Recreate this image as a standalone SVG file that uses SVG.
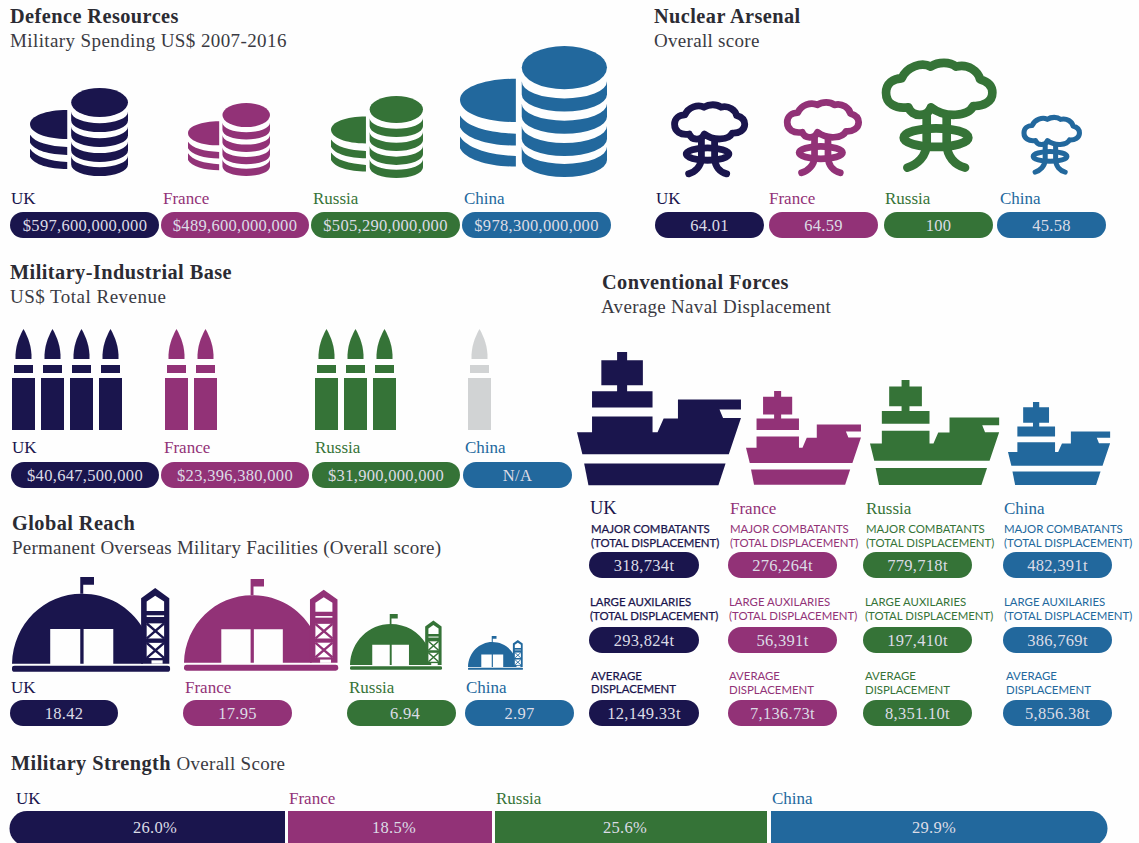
<svg xmlns="http://www.w3.org/2000/svg" xmlns:xlink="http://www.w3.org/1999/xlink" width="1139" height="843" viewBox="0 0 1139 843">
<style>
text{font-family:"Liberation Serif","Times New Roman",serif}
.uk{color:#1a154d;fill:#1a154d}.fr{color:#923277;fill:#923277}.ru{color:#357337;fill:#357337}.cn{color:#22689d;fill:#22689d}.na{color:#d1d3d4;fill:#d1d3d4}
.t{font-size:20.300px;font-weight:bold;fill:#2b2b33;letter-spacing:.45px}
.s{font-size:19px;fill:#3a3a42;letter-spacing:.3px}
.l{font-size:17px}
.n{font-size:17px}
.p{font-size:16.500px;fill:#dcdce6;text-anchor:middle;letter-spacing:.3px}
.m{font-family:Lato,"Open Sans",sans-serif;font-size:11.400px}
.b{stroke:currentColor;stroke-width:.25px}
</style>
<defs>
<g id="coins" fill="currentColor">
<ellipse cx="71" cy="16.500" rx="29" ry="16.500"/>
<path d="M42 27A29 13 0 0 0 100 27V37A29 13 0 0 1 42 37Z"/>
<path d="M42 44A29 13 0 0 0 100 44V54A29 13 0 0 1 42 54Z"/>
<path d="M42 61A29 13 0 0 0 100 61V71A29 13 0 0 1 42 71Z"/>
<path d="M42 77A29 13 0 0 0 100 77V87A29 13 0 0 1 42 87Z"/>
<path d="M38 25C16 25 0 32 0 41C0 51 16 58 38 58Z"/>
<path d="M0 53C5 62 20 66 38 67V76C20 76 4 71 0 62Z"/>
<path d="M0 69C5 78 20 83 38 84V92C20 92 4 87 0 78Z"/>
</g>
<g id="nuke" transform="translate(-725 -25)" fill="none" stroke="currentColor" stroke-linecap="round" stroke-linejoin="round">
<path d="M873 172C860 205 815 200 805 172C765 178 738 160 738 128C738 100 760 85 785 85C800 50 845 35 872 50C895 35 930 35 948 50C985 40 1015 65 1020 88C1045 95 1057 110 1057 128C1057 155 1030 170 1000 168C985 200 915 205 873 172Z"/>
<path d="M860 195V280C860 320 830 345 802 353M920 195V280C920 320 945 345 975 353"/>
<ellipse cx="888" cy="263" rx="97" ry="28"/>
</g>
<g id="bullet" fill="currentColor">
<path d="M11.500 0C16 8 20 18 19.500 30H3.500C3 18 7 8 11.500 0Z"/>
<rect x="2" y="36" width="19" height="8"/>
<rect x="0" y="49" width="23" height="52"/>
</g>
<g id="ship" transform="translate(-20 -35)" fill="currentColor">
<path d="M132 35H160V60H204V135H160V153H231V202H62V153H132V135H88V60H132Z"/>
<path d="M62 229H231V277H245L262 235H302V178H478V208H418L428 234H478L444 343H35L20 277H62Z"/>
<path d="M40 371H435L415 436H52Z"/>
</g>
<g id="base" transform="translate(-32 -22)" fill="currentColor">
<path d="M32 280C35 160 120 72 220 72C290 72 350 110 385 175V280H305V177H225V280H216V177H135V280Z"/>
<path d="M216 72V22H253V45H224V72Z"/>
<path d="M380 85L418 55L456 85V280H380Z"/>
<rect x="32" y="286" width="426" height="18" rx="7"/>
<g fill="#fff"><path d="M395 95L418 78L442 95V123H395Z"/><rect x="395" y="136" width="47" height="5"/><rect x="395" y="160" width="47" height="45"/><rect x="395" y="218" width="47" height="45"/><rect x="408" y="270" width="30" height="10"/></g>
<path d="M395 160L442 205M442 160L395 205M395 218L442 263M442 218L395 263" stroke="currentColor" stroke-width="7" fill="none"/>
</g>
</defs>
<rect width="1139" height="843" fill="#fefefe"/>

<g id="defence-resources">
<text class="t" x="10" y="23">Defence Resources</text>
<text class="s" x="10" y="47" style="letter-spacing:.4px">Military Spending US$ 2007-2016</text>
<use href="#coins" class="uk" transform="translate(30 88) scale(.98 .88)"/>
<use href="#coins" class="fr" transform="translate(188 103) scale(.82 .73)"/>
<use href="#coins" class="ru" transform="translate(331 96) scale(.92 .82)"/>
<use href="#coins" class="cn" transform="translate(460 46) scale(1.47 1.31)"/>
<text class="l uk" x="11" y="204">UK</text><text class="l fr" x="163" y="204">France</text><text class="l ru" x="313" y="204">Russia</text><text class="l cn" x="464" y="204">China</text>
<rect class="uk" x="10" y="212" width="149" height="26" rx="13"/><text class="p" x="85" y="231">$597,600,000,000</text>
<rect class="fr" x="161" y="212" width="148" height="26" rx="13"/><text class="p" x="235" y="231">$489,600,000,000</text>
<rect class="ru" x="311" y="212" width="149" height="26" rx="13"/><text class="p" x="385.500" y="231">$505,290,000,000</text>
<rect class="cn" x="462" y="212" width="149" height="26" rx="13"/><text class="p" x="536.500" y="231">$978,300,000,000</text>
</g>

<g id="nuclear-arsenal">
<text class="t" x="654" y="23">Nuclear Arsenal</text>
<text class="s" x="654" y="47">Overall score</text>
<use href="#nuke" class="uk" stroke-width="31" transform="translate(671.700 101.700) scale(.22)"/>
<use href="#nuke" class="fr" stroke-width="30" transform="translate(784.300 99.300) scale(.224)"/>
<use href="#nuke" class="ru" stroke-width="26" transform="translate(881.700 58.300) scale(.3333)"/>
<use href="#nuke" class="cn" stroke-width="29" transform="translate(1021.700 115) scale(.174)"/>
<text class="l uk" x="656" y="204">UK</text><text class="l fr" x="769" y="204">France</text><text class="l ru" x="885" y="204">Russia</text><text class="l cn" x="1000" y="204">China</text>
<rect class="uk" x="655" y="212" width="109" height="26" rx="13"/><text class="p" x="709.500" y="231">64.01</text>
<rect class="fr" x="769" y="212" width="109" height="26" rx="13"/><text class="p" x="823.500" y="231">64.59</text>
<rect class="ru" x="884" y="212" width="109" height="26" rx="13"/><text class="p" x="938.500" y="231">100</text>
<rect class="cn" x="997" y="212" width="109" height="26" rx="13"/><text class="p" x="1051.500" y="231">45.58</text>
</g>

<g id="military-industrial-base">
<text class="t" x="10" y="279">Military-Industrial Base</text>
<text class="s" x="10" y="303" style="letter-spacing:.48px">US$ Total Revenue</text>
<use href="#bullet" class="uk" x="12" y="329"/><use href="#bullet" class="uk" x="41" y="329"/><use href="#bullet" class="uk" x="70" y="329"/><use href="#bullet" class="uk" x="99" y="329"/>
<use href="#bullet" class="fr" x="165" y="329"/><use href="#bullet" class="fr" x="194" y="329"/>
<use href="#bullet" class="ru" x="315" y="329"/><use href="#bullet" class="ru" x="344" y="329"/><use href="#bullet" class="ru" x="373" y="329"/>
<use href="#bullet" class="na" x="468" y="329"/>
<text class="l uk" x="12" y="453">UK</text><text class="l fr" x="164" y="453">France</text><text class="l ru" x="315" y="453">Russia</text><text class="l cn" x="465" y="453">China</text>
<rect class="uk" x="11" y="462" width="148" height="26" rx="13"/><text class="p" x="85" y="481">$40,647,500,000</text>
<rect class="fr" x="161" y="462" width="148" height="26" rx="13"/><text class="p" x="235" y="481">$23,396,380,000</text>
<rect class="ru" x="312" y="462" width="148" height="26" rx="13"/><text class="p" x="386" y="481">$31,900,000,000</text>
<rect class="cn" x="463" y="462" width="109" height="26" rx="13"/><text class="p" x="517.500" y="481">N/A</text>
</g>

<g id="conventional-forces">
<text class="t" x="602" y="289">Conventional Forces</text>
<text class="s" x="601" y="313">Average Naval Displacement</text>
<use href="#ship" class="uk" transform="translate(577 352) scale(.358 .332)"/>
<use href="#ship" class="fr" transform="translate(746 391) scale(.251 .234)"/>
<use href="#ship" class="ru" transform="translate(870 380) scale(.282 .262)"/>
<use href="#ship" class="cn" transform="translate(1008 402) scale(.223 .207)"/>
<text class="n uk" style="font-size:18.500px" x="590" y="514">UK</text><text class="n fr" x="730" y="514">France</text><text class="n ru" x="866" y="514">Russia</text><text class="n cn" x="1004" y="514">China</text>

<text class="m uk b" x="591" y="533">MAJOR COMBATANTS</text><text class="m uk b" x="591" y="547">(TOTAL DISPLACEMENT)</text>
<text class="m fr" x="730" y="533">MAJOR COMBATANTS</text><text class="m fr" x="730" y="547">(TOTAL DISPLACEMENT)</text>
<text class="m ru" x="866" y="533">MAJOR COMBATANTS</text><text class="m ru" x="866" y="547">(TOTAL DISPLACEMENT)</text>
<text class="m cn" x="1004" y="533">MAJOR COMBATANTS</text><text class="m cn" x="1004" y="547">(TOTAL DISPLACEMENT)</text>
<rect class="uk" x="589" y="552" width="110" height="26" rx="13"/><text class="p" x="644" y="571">318,734t</text>
<rect class="fr" x="728" y="552" width="109" height="26" rx="13"/><text class="p" x="782.500" y="571">276,264t</text>
<rect class="ru" x="863" y="552" width="109" height="26" rx="13"/><text class="p" x="917.500" y="571">779,718t</text>
<rect class="cn" x="1003" y="552" width="109" height="26" rx="13"/><text class="p" x="1057.500" y="571">482,391t</text>

<text class="m uk b" x="590" y="606">LARGE AUXILARIES</text><text class="m uk b" x="590" y="620">(TOTAL DISPLACEMENT)</text>
<text class="m fr" x="729" y="606">LARGE AUXILARIES</text><text class="m fr" x="729" y="620">(TOTAL DISPLACEMENT)</text>
<text class="m ru" x="865" y="606">LARGE AUXILARIES</text><text class="m ru" x="865" y="620">(TOTAL DISPLACEMENT)</text>
<text class="m cn" x="1004" y="606">LARGE AUXILARIES</text><text class="m cn" x="1004" y="620">(TOTAL DISPLACEMENT)</text>
<rect class="uk" x="589" y="627" width="110" height="26" rx="13"/><text class="p" x="644" y="646">293,824t</text>
<rect class="fr" x="728" y="627" width="109" height="26" rx="13"/><text class="p" x="782.500" y="646">56,391t</text>
<rect class="ru" x="863" y="627" width="109" height="26" rx="13"/><text class="p" x="917.500" y="646">197,410t</text>
<rect class="cn" x="1003" y="627" width="109" height="26" rx="13"/><text class="p" x="1057.500" y="646">386,769t</text>

<text class="m uk b" x="591" y="680">AVERAGE</text><text class="m uk b" x="591" y="693">DISPLACEMENT</text>
<text class="m fr" x="729" y="680">AVERAGE</text><text class="m fr" x="729" y="694">DISPLACEMENT</text>
<text class="m ru" x="865" y="680">AVERAGE</text><text class="m ru" x="865" y="694">DISPLACEMENT</text>
<text class="m cn" x="1006" y="680">AVERAGE</text><text class="m cn" x="1006" y="694">DISPLACEMENT</text>
<rect class="uk" x="589" y="700" width="110" height="26" rx="13"/><text class="p" x="644" y="719">12,149.33t</text>
<rect class="fr" x="728" y="700" width="109" height="26" rx="13"/><text class="p" x="782.500" y="719">7,136.73t</text>
<rect class="ru" x="863" y="700" width="109" height="26" rx="13"/><text class="p" x="917.500" y="719">8,351.10t</text>
<rect class="cn" x="1003" y="700" width="109" height="26" rx="13"/><text class="p" x="1057.500" y="719">5,856.38t</text>
</g>

<g id="global-reach">
<text class="t" x="12" y="530">Global Reach</text>
<text class="s" x="12" y="554" style="letter-spacing:.24px">Permanent Overseas Military Facilities (Overall score)</text>
<use href="#base" class="uk" transform="translate(12 577) scale(.371 .336)"/>
<use href="#base" class="fr" transform="translate(184 579) scale(.362 .325)"/>
<use href="#base" class="ru" transform="translate(350 614) scale(.216 .198)"/>
<use href="#base" class="cn" transform="translate(468 636) scale(.129 .12)"/>
<text class="l uk" x="11" y="693">UK</text><text class="l fr" x="185" y="693">France</text><text class="l ru" x="349" y="693">Russia</text><text class="l cn" x="466" y="693">China</text>
<rect class="uk" x="10" y="700" width="108" height="26" rx="13"/><text class="p" x="64" y="719">18.42</text>
<rect class="fr" x="183" y="700" width="109" height="26" rx="13"/><text class="p" x="237.500" y="719">17.95</text>
<rect class="ru" x="347" y="700" width="109" height="26" rx="13"/><text class="p" x="405" y="719">6.94</text>
<rect class="cn" x="465" y="700" width="109" height="26" rx="13"/><text class="p" x="519.500" y="719">2.97</text>
</g>

<g id="military-strength">
<text class="t" x="11" y="770">Military Strength <tspan style="font-weight:normal;font-size:19px;letter-spacing:.3px;fill:#3a3a42">Overall Score</tspan></text>
<text class="l uk" x="16" y="804">UK</text><text class="l fr" x="289" y="804">France</text><text class="l ru" x="496" y="804">Russia</text><text class="l cn" x="772" y="804">China</text>
<path class="uk" d="M285 811V846H27A17.500 17.500 0 0 1 27 811Z"/><text class="p" x="155" y="833">26.0%</text>
<rect class="fr" x="288" y="811" width="204" height="35"/><text class="p" x="394" y="833">18.5%</text>
<rect class="ru" x="495" y="811" width="272" height="35"/><text class="p" x="625" y="833">25.6%</text>
<path class="cn" d="M771 811H1090A17.500 17.500 0 0 1 1090 846H771Z"/><text class="p" x="934" y="833">29.9%</text>
</g>
<g id="connectors"/>
</svg>
